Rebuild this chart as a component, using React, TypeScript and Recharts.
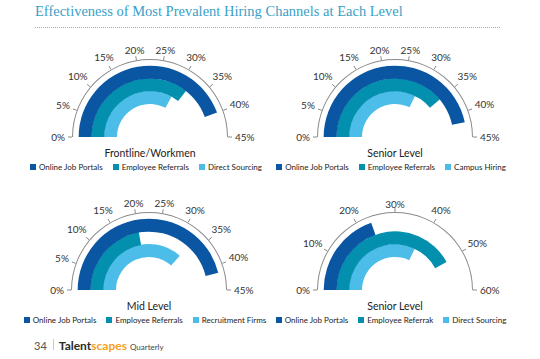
import React from 'react';
import { RadialBarChart, RadialBar, PolarAngleAxis, Cell } from 'recharts';

// series names per panel (outer ring first)
const frontlineNames = ['Online Job Portals', 'Employee Referrals', 'Direct Sourcing'];
const frontlineValues = [40, 32, 29.5];

const seniorNames = ['Online Job Portals', 'Employee Referrals', 'Campus Hiring'];
const seniorValues = [42, 35, 29];

const midNames = ['Online Job Portals', 'Employee Referrals', 'Recruitment Firms'];
const midValues = [41.5, 20, 33];

const senior2Names = ['Online Job Portals', 'Employee Referrals', 'Direct Sourcing'];
const senior2Legend = ['Online Job Portals', 'Employee Referrak', 'Direct Sourcing'];
const senior2Values = [23.5, 50.5, 38.5];

const ticks45 = [0, 5, 10, 15, 20, 25, 30, 35, 40, 45];
const ticks60 = [0, 10, 20, 30, 40, 50, 60];

const COLORS = ['#0A56A3', '#0290AE', '#4CBDE9'];

const CW = 250;
const CH = 125;
const CX = 125;
const CY = 110;
const AXIS_R = 78;

interface GaugeProps {
  left: number;
  top: number;
  title: string;
  names: string[];
  legendNames?: string[];
  values: number[];
  ticks: number[];
}

const Gauge = ({ left, top, title, names, legendNames, values, ticks }: GaugeProps) => {
  const max = ticks[ticks.length - 1];
  // inner ring first for the category radius axis
  const data = names.map((n, i) => ({ name: n, value: values[i], fill: COLORS[i] })).reverse();
  const scale = [{ name: 'scale', value: max }];

  const renderTick = (props: any) => {
    const { x, y, payload } = props;
    const dx = x - CX;
    const dy = y - CY;
    const d = Math.sqrt(dx * dx + dy * dy) || 1;
    const ux = dx / d;
    const uy = dy / d;
    const label = `${payload.value}%`;
    const halfW = (label.length - 1) * 2.9 + 4;
    const dist = d + 1 + Math.abs(ux) * (2 + halfW) + Math.abs(uy) * 3.5;
    return (
      <text
        x={CX + ux * dist}
        y={CY + uy * dist}
        textAnchor="middle"
        dominantBaseline="central"
        fill="#333"
        fontSize={10}
        fontFamily="Lato, sans-serif"
      >
        {label}
      </text>
    );
  };

  return (
    <div style={{ position: 'absolute', left, top, width: CW, height: 160 }}>
      <div style={{ position: 'absolute', left: 0, top: 0 }}>
        <RadialBarChart
          width={CW}
          height={CH}
          cx={CX}
          cy={CY}
          innerRadius={AXIS_R - 1}
          outerRadius={AXIS_R}
          startAngle={180}
          endAngle={0}
          data={scale}
          barCategoryGap={0}
          margin={{ top: 0, right: 0, bottom: 0, left: 0 }}
        >
          <PolarAngleAxis
            type="number"
            domain={[0, max]}
            ticks={ticks}
            axisLine={false}
            tickLine={{ stroke: '#8a8a8a', strokeWidth: 1 }}
            tickSize={4}
            tick={renderTick}
          />
          <RadialBar dataKey="value" fill="#8a8a8a" isAnimationActive={false} />
        </RadialBarChart>
      </div>
      <div style={{ position: 'absolute', left: 0, top: 0 }}>
        <RadialBarChart
          width={CW}
          height={CH}
          cx={CX}
          cy={CY}
          innerRadius={33}
          outerRadius={71}
          startAngle={180}
          endAngle={0}
          data={data}
          barCategoryGap={0}
          barGap={0}
          margin={{ top: 0, right: 0, bottom: 0, left: 0 }}
        >
          <PolarAngleAxis type="number" domain={[0, max]} tick={false} axisLine={false} />
          <RadialBar dataKey="value" isAnimationActive={false}>
            {data.map((d, i) => (
              <Cell key={`c-${i}`} fill={d.fill} />
            ))}
          </RadialBar>
        </RadialBarChart>
      </div>
      <div
        style={{
          position: 'absolute',
          left: 0,
          width: CW,
          top: CY + 10,
          textAlign: 'center',
          fontSize: 10.5,
          lineHeight: '12px',
          color: '#222',
          whiteSpace: 'nowrap',
        }}
      >
        {title}
      </div>
      <div
        style={{
          position: 'absolute',
          left: -20,
          width: CW + 32,
          top: CY + 25,
          display: 'flex',
          justifyContent: 'center',
          gap: 10,
          fontSize: 8,
          lineHeight: '10px',
          color: '#222',
          whiteSpace: 'nowrap',
        }}
      >
        {(legendNames || names).map((n, i) => (
          <div key={n} style={{ display: 'flex', alignItems: 'center' }}>
            <span style={{ width: 6, height: 6, background: COLORS[i], marginRight: 3, display: 'inline-block' }} />
            {n}
          </div>
        ))}
      </div>
    </div>
  );
};

export default function App() {
  return (
    <div
      style={{
        position: 'absolute',
        left: 0,
        top: 0,
        width: 540,
        height: 359,
        background: '#fff',
        fontFamily: 'Lato, sans-serif',
        overflow: 'hidden',
      }}
    >
      <div
        style={{
          position: 'absolute',
          left: 35,
          top: 3,
          fontFamily: '"Liberation Serif", serif',
          fontSize: 14.5,
          color: '#3A9FC8',
          whiteSpace: 'nowrap',
        }}
      >
        Effectiveness of Most Prevalent Hiring Channels at Each Level
      </div>
      <div style={{ position: 'absolute', left: 35, top: 27, width: 465, borderTop: '1px dotted #aaa' }} />

      <Gauge left={150 - CX} top={137 - CY} title="Frontline/Workmen" names={frontlineNames} values={frontlineValues} ticks={ticks45} />
      <Gauge left={395 - CX} top={137 - CY} title="Senior Level" names={seniorNames} values={seniorValues} ticks={ticks45} />
      <Gauge left={149 - CX} top={290 - CY} title="Mid Level" names={midNames} values={midValues} ticks={ticks45} />
      <Gauge
        left={395 - CX}
        top={290 - CY}
        title="Senior Level"
        names={senior2Names}
        legendNames={senior2Legend}
        values={senior2Values}
        ticks={ticks60}
      />

      <div style={{ position: 'absolute', left: 34, top: 338, display: 'flex', alignItems: 'baseline', whiteSpace: 'nowrap' }}>
        <span style={{ fontSize: 11, color: '#555' }}>34</span>
        <span style={{ display: 'inline-block', width: 1, height: 11, background: '#ccc', margin: '0 5px 0 6px' }} />
        <span style={{ fontSize: 12, fontWeight: 700, color: '#2a2a2a' }}>Talent</span>
        <span style={{ fontSize: 12, fontWeight: 700, color: '#F4A11D' }}>scapes</span>
        <span style={{ fontSize: 8, color: '#444', marginLeft: 3 }}>Quarterly</span>
      </div>
    </div>
  );
}
